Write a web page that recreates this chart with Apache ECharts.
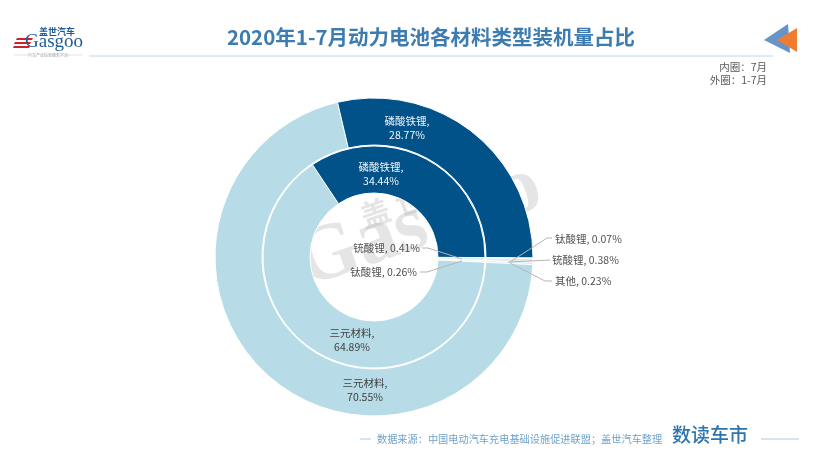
<!DOCTYPE html>
<html><head><meta charset="utf-8">
<style>html,body{margin:0;padding:0;background:#fff}#c{width:820px;height:461px}</style>
<script src="https://cdn.jsdelivr.net/npm/echarts@6/dist/echarts.min.js"></script>
</head><body><div id="c"></div>
<script>
const titleText = '2020年1-7月动力电池各材料类型装机量占比';
const noteLines = ['内圈\uFF1A7月', '外圈\uFF1A1-7月'];
const sourceText = '数据来源\uFF1A中国电动汽车充电基础设施促进联盟\uFF1B盖世汽车整理';
const innerNames = ['铳酸锂', '钛酸锂', '三元材料', '磷酸铁锂'];
const innerValues = [0.41, 0.26, 64.89, 34.44];
const outerNames = ['钛酸锂', '铳酸锂', '其他', '三元材料', '磷酸铁锂'];
const outerValues = [0.07, 0.38, 0.23, 70.55, 28.77];
const colorMap = {'磷酸铁锂':'#02528a','三元材料':'#b7dce8','铳酸锂':'#dceef4','钛酸锂':'#e2f1f6','其他':'#d6ebf2'};
const F = '"Noto Sans CJK SC","Noto Sans",sans-serif';

const insideKeys = ['磷酸铁锂','三元材料'];
const toData = (names, vals) => names.map((n,i)=>{
  const big = insideKeys.includes(n);
  return {
    name:n, value:vals[i],
    itemStyle:{color:colorMap[n]},
    label: big ? {position:'inside',color:n==='磷酸铁锂'?'#f2f6f9':'#404040',formatter:p=>p.name+',\n'+p.value.toFixed(2)+'%'}
               : {position:'outside',color:'#505050',formatter:p=>p.name+', '+p.value.toFixed(2)+'%'},
    labelLine:{show:false}
  };
});
const innerLabelPos = {
  '铳酸锂':{x:420,y:248,align:'right'},
  '钛酸锂':{x:417,y:272,align:'right'},
  '三元材料':{x:352,y:340,align:'center'},
  '磷酸铁锂':{x:381,y:174,align:'center'}
};
const outerLabelPos = {
  '钛酸锂':{x:555,y:239,align:'left'},
  '铳酸锂':{x:552,y:260,align:'left'},
  '其他':{x:555,y:281,align:'left'},
  '三元材料':{x:365,y:390,align:'center'},
  '磷酸铁锂':{x:407,y:128,align:'center'}
};
const leaderPaths = [
  [[462,259],[428,248],[422,248]],
  [[462,261],[427,272],[420,272]],
  [[510,262],[547,238],[552,238]],
  [[508,262],[530,261],[550,260]],
  [[510,263],[545,281],[552,281]]
];
const layoutFrom = (names,pos)=>params=>{
  const p = pos[names[params.dataIndex]];
  return {x:p.x,y:p.y,align:p.align,verticalAlign:'middle'};
};
const series = (names,vals,r,pos)=>({
  type:'pie', center:[374,257], radius:r, startAngle:-0.3, clockwise:true,
  avoidLabelOverlap:false, silent:true, animation:false, z:3,
  itemStyle:{borderColor:'#fff',borderWidth:1},
  label:{fontFamily:F,fontSize:10.5,lineHeight:14},
  labelLayout:layoutFrom(names,pos),
  data:toData(names,vals)
});

const wm = 'rgba(170,170,170,0.3)';
const chart = echarts.init(document.getElementById('c'),null,{renderer:'canvas'});
chart.setOption({
  backgroundColor:'#fff',
  animation:false,
  title:{text:titleText,left:426,top:22,textAlign:'center',
    textStyle:{fontFamily:F,fontSize:20.5,fontWeight:'bold',color:'#3d7cb0'}},
  graphic:[
    {type:'text',x:312,y:305,rotation:0.33,z:1,style:{text:'Gasgoo',fontFamily:'"Liberation Serif",serif',fontWeight:'bold',fontSize:80,fill:wm,verticalAlign:'bottom'}},
    {type:'text',x:366,y:232,rotation:0.33,z:1,style:{text:'盖 世 汽 车',fontFamily:F,fontWeight:'bold',fontSize:30,fill:wm,verticalAlign:'bottom'}},
    {type:'line',z:1,shape:{x1:89,y1:56,x2:773,y2:56},style:{stroke:'#b9d6ea',lineWidth:1}},
    {type:'polygon',z:2,shape:{points:[[764,40],[788,24],[790,53]]},style:{fill:'#6694c8'}},
    {type:'polygon',z:3,shape:{points:[[777,40],[797,28],[797,52]]},style:{fill:'#ee7d31'}},
    {type:'text',x:767,y:67,z:3,style:{text:noteLines[0],fontFamily:F,fontSize:10.5,fill:'#595959',align:'right',verticalAlign:'middle'}},
    {type:'text',x:767,y:80,z:3,style:{text:noteLines[1],fontFamily:F,fontSize:10.5,fill:'#595959',align:'right',verticalAlign:'middle'}},
    {type:'polygon',z:3,shape:{points:[[17,38],[33,38],[32,40],[16,40]]},style:{fill:'#d0222a'}},
    {type:'polygon',z:3,shape:{points:[[15,42],[31,42],[30,44],[14,44]]},style:{fill:'#d0222a'}},
    {type:'polygon',z:3,shape:{points:[[14,46],[30,46],[29,48],[13,48]]},style:{fill:'#d0222a'}},
    {type:'text',x:25,y:52,z:3,style:{text:'Gasgoo',fontFamily:'"Liberation Serif",serif',fontSize:19,fill:'#1c5c98',verticalAlign:'bottom'}},
    {type:'text',x:39,y:27,z:3,style:{text:'盖世汽车',fontFamily:F,fontWeight:'bold',fontSize:9,fill:'#1c5c98',verticalAlign:'top'}},
    {type:'text',x:48,y:55,z:3,style:{text:'汽车产业信息服务平台',fontFamily:F,fontSize:4,fill:'#999',align:'center',verticalAlign:'middle'}},
    {type:'line',z:3,shape:{x1:14,y1:55,x2:30,y2:55},style:{stroke:'#ccc',lineWidth:0.6}},
    {type:'line',z:3,shape:{x1:66,y1:55,x2:82,y2:55},style:{stroke:'#ccc',lineWidth:0.6}},
    {type:'line',z:1,shape:{x1:360,y1:439,x2:371,y2:439},style:{stroke:'#a9cde6',lineWidth:1}},
    {type:'line',z:1,shape:{x1:761,y1:439,x2:799,y2:439},style:{stroke:'#a9cde6',lineWidth:1}},
    {type:'text',x:377,y:439,z:3,style:{text:sourceText,fontFamily:F,fontSize:10.2,fill:'#6ea3cc',verticalAlign:'middle'}},
    {type:'text',x:672,y:435,z:3,style:{text:'数读车市',fontFamily:F,fontWeight:500,fontSize:19,fill:'#2f74ac',verticalAlign:'middle'}}
  ].concat(leaderPaths.map(pts=>({type:'polyline',z:100,shape:{points:pts},style:{stroke:'#b5b5b5',lineWidth:1,fill:null}}))),
  series:[ series(innerNames,innerValues,[64,111],innerLabelPos), series(outerNames,outerValues,[112,159],outerLabelPos) ]
});
</script></body></html>
